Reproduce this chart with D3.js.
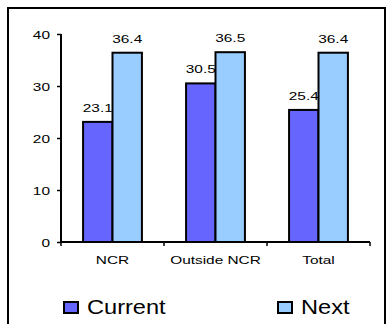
<!DOCTYPE html>
<html>
<head>
<meta charset="utf-8">
<script src="https://cdn.jsdelivr.net/npm/d3@7"></script>
<style>
  html, body { margin: 0; padding: 0; background: #fff; }
  svg { display: block; }
  text { font-family: "Liberation Sans", Arial, sans-serif; fill: #000; }
</style>
</head>
<body>
<div id="chart"></div>
<script>
// Chart data
const categories = ["NCR", "Outside NCR", "Total"];
const seriesNames = ["Current", "Next"];
const currentValues = [23.1, 30.5, 25.4];
const nextValues = [36.4, 36.5, 36.4];
const yTicks = [0, 10, 20, 30, 40];
const seriesColors = ["#6666FF", "#99CCFF"];

const W = 387, H = 324;
const svg = d3.select("#chart").append("svg").attr("width", W).attr("height", H);

// outer frame
svg.append("rect")
  .attr("x", 8).attr("y", 8).attr("width", 377).attr("height", 330)
  .attr("fill", "#fff").attr("stroke", "#000").attr("stroke-width", 2);

const plot = { left: 61, right: 370, top: 34, bottom: 242 };
const TEXT_SX = 1.4; // wide glyph proportions of the labels

const y = d3.scaleLinear().domain([0, 40]).range([plot.bottom, plot.top]);
const x0 = d3.scaleBand().domain(categories).range([plot.left, plot.right]).padding(0);
const x1 = d3.scaleBand().domain(seriesNames).range([0, x0.bandwidth()])
  .paddingInner(0).paddingOuter(0.75);

const rows = categories.map((c, i) => ({
  cat: c,
  vals: [
    { s: seriesNames[0], v: currentValues[i], color: seriesColors[0] },
    { s: seriesNames[1], v: nextValues[i], color: seriesColors[1] }
  ]
}));

// bars
const groups = svg.selectAll("g.grp").data(rows).join("g")
  .attr("class", "grp")
  .attr("transform", d => `translate(${x0(d.cat)},0)`);

groups.selectAll("rect").data(d => d.vals).join("rect")
  .attr("x", d => x1(d.s))
  .attr("y", d => y(d.v))
  .attr("width", x1.bandwidth())
  .attr("height", d => y(0) - y(d.v))
  .attr("fill", d => d.color)
  .attr("stroke", "#000")
  .attr("stroke-width", 2);

// value labels
groups.selectAll("text.val").data(d => d.vals).join("text")
  .attr("class", "val")
  .attr("text-anchor", "middle")
  .attr("font-size", 11)
  .attr("transform", d => `translate(${x1(d.s) + x1.bandwidth() / 2},${y(d.v) - 10}) scale(${TEXT_SX},1)`)
  .text(d => d.v.toFixed(1));

// y axis
const yAxis = svg.append("g").attr("transform", `translate(${plot.left},0)`)
  .call(d3.axisLeft(y).tickValues(yTicks).tickSize(4).tickPadding(7).tickFormat(d3.format("d")));
yAxis.select(".domain").attr("stroke", "#000").attr("stroke-width", 2)
  .attr("d", `M0,${plot.top}V${plot.bottom}`);
yAxis.selectAll(".tick line").attr("stroke", "#000").attr("stroke-width", 1.5);
yAxis.selectAll(".tick text")
  .attr("font-size", 11)
  .attr("font-family", "Liberation Sans, Arial, sans-serif")
  .attr("fill", "#000")
  .attr("x", null).attr("dy", null)
  .attr("transform", `translate(-11,4) scale(${TEXT_SX},1)`);

// x axis
const xAxis = svg.append("g").attr("transform", `translate(0,${plot.bottom})`)
  .call(d3.axisBottom(x0).tickSize(0).tickPadding(0).tickFormat(""));
xAxis.select(".domain").attr("stroke", "#000").attr("stroke-width", 2)
  .attr("d", `M${plot.left},0H${plot.right}`);
xAxis.selectAll(".tick").remove();
const bounds = categories.map(c => x0(c)).concat([plot.right]);
xAxis.selectAll("line.sep").data(bounds).join("line")
  .attr("class", "sep")
  .attr("x1", d => d).attr("x2", d => d)
  .attr("y1", 0).attr("y2", 4)
  .attr("stroke", "#000").attr("stroke-width", 1.5);

svg.append("g").selectAll("text").data(categories).join("text")
  .attr("text-anchor", "middle")
  .attr("font-size", 11)
  .attr("transform", d => `translate(${x0(d) + x0.bandwidth() / 2},264) scale(${TEXT_SX},1)`)
  .text(d => d);

// legend
const legendItems = [
  { name: seriesNames[0], color: seriesColors[0], x: 64, tx: 87 },
  { name: seriesNames[1], color: seriesColors[1], x: 278, tx: 301 }
];
const lg = svg.append("g").selectAll("g").data(legendItems).join("g");
lg.append("rect")
  .attr("x", d => d.x).attr("y", 302)
  .attr("width", 14).attr("height", 11)
  .attr("fill", d => d.color)
  .attr("stroke", "#000").attr("stroke-width", 2);
lg.append("text")
  .attr("font-size", 20)
  .attr("transform", d => `translate(${d.tx},313.5) scale(1.18,1)`)
  .text(d => d.name);
</script>
</body>
</html>
